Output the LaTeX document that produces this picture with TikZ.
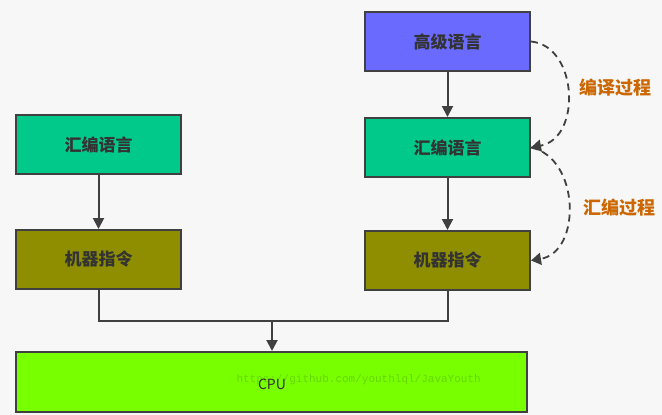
\documentclass[tikz,border=0pt]{standalone}
\usepackage{fontspec}
\newfontfamily\cjk{Noto Sans CJK SC}
\newfontfamily\monof{Liberation Mono}
\usetikzlibrary{arrows.meta}
\definecolor{bg}{HTML}{F7F7F7}
\definecolor{edge}{HTML}{404040}
\definecolor{txt}{HTML}{333333}
\definecolor{cblue}{HTML}{6A6AFF}
\definecolor{cgreen}{HTML}{00C98A}
\definecolor{colive}{HTML}{8E8E00}
\definecolor{clime}{HTML}{78FF00}
\definecolor{corange}{HTML}{CC6600}
\definecolor{wm}{HTML}{66D800}
\tikzset{
  box/.style={draw=edge, line width=2pt, minimum width=165pt, minimum height=59pt, inner sep=0pt, font=\cjk\bfseries\fontsize{17}{19}\selectfont, text=txt},
  conn/.style={draw=edge, line width=2pt, -{Triangle[length=11pt,width=11pt]}},
  dconn/.style={draw=edge, line width=1.8pt, dash pattern=on 7pt off 5pt, -{Triangle[length=10pt,width=12pt]}},
  lab/.style={font=\cjk\bfseries\fontsize{18}{20}\selectfont, text=corange},
}
\begin{document}
\begin{tikzpicture}[x=1pt,y=-1pt]
\fill[bg] (0,0) rectangle (662,415);
\useasboundingbox (0,0) rectangle (662,415);
\node[box, fill=cblue] (hl) at (447.5,41.5) {高级语言};
\node[box, fill=cgreen] (ar) at (447.5,147.5) {汇编语言};
\node[box, fill=colive] (mr) at (447.5,260.5) {机器指令};
\node[box, fill=cgreen] (al) at (98.5,144.5) {汇编语言};
\node[box, fill=colive] (ml) at (98.5,259.5) {机器指令};
\node[box, fill=clime, minimum width=511pt, minimum height=60pt] (cpu) at (271.5,382) {};
\node[font=\monof\fontsize{11}{12}\selectfont, text=wm, anchor=west] (wmk) at (233,380) {https://github.com/youthlql/JavaYouth};
\node[font=\cjk\fontsize{14}{16}\selectfont, text=txt] (cputxt) at (272,384) {CPU};
\coordinate (j) at (272,321);
\draw[conn] (hl) -- (ar);
\draw[conn] (ar) -- (mr);
\draw[conn] (al) -- (ml);
\draw[draw=edge, line width=2pt] (ml.south) |- (mr.south |- j) -- (mr.south);
\draw[conn] (j) -- (cpu.north -| j);
\draw[dconn] (hl.east) .. controls (578,46) and (582,138) .. (ar.east);
\draw[dconn] (ar.east) .. controls (580,158) and (582,252) .. (mr.east);
\node[lab] (l1) at (615,88) {编译过程};
\node[lab] (l2) at (619,208) {汇编过程};
\end{tikzpicture}
\end{document}
